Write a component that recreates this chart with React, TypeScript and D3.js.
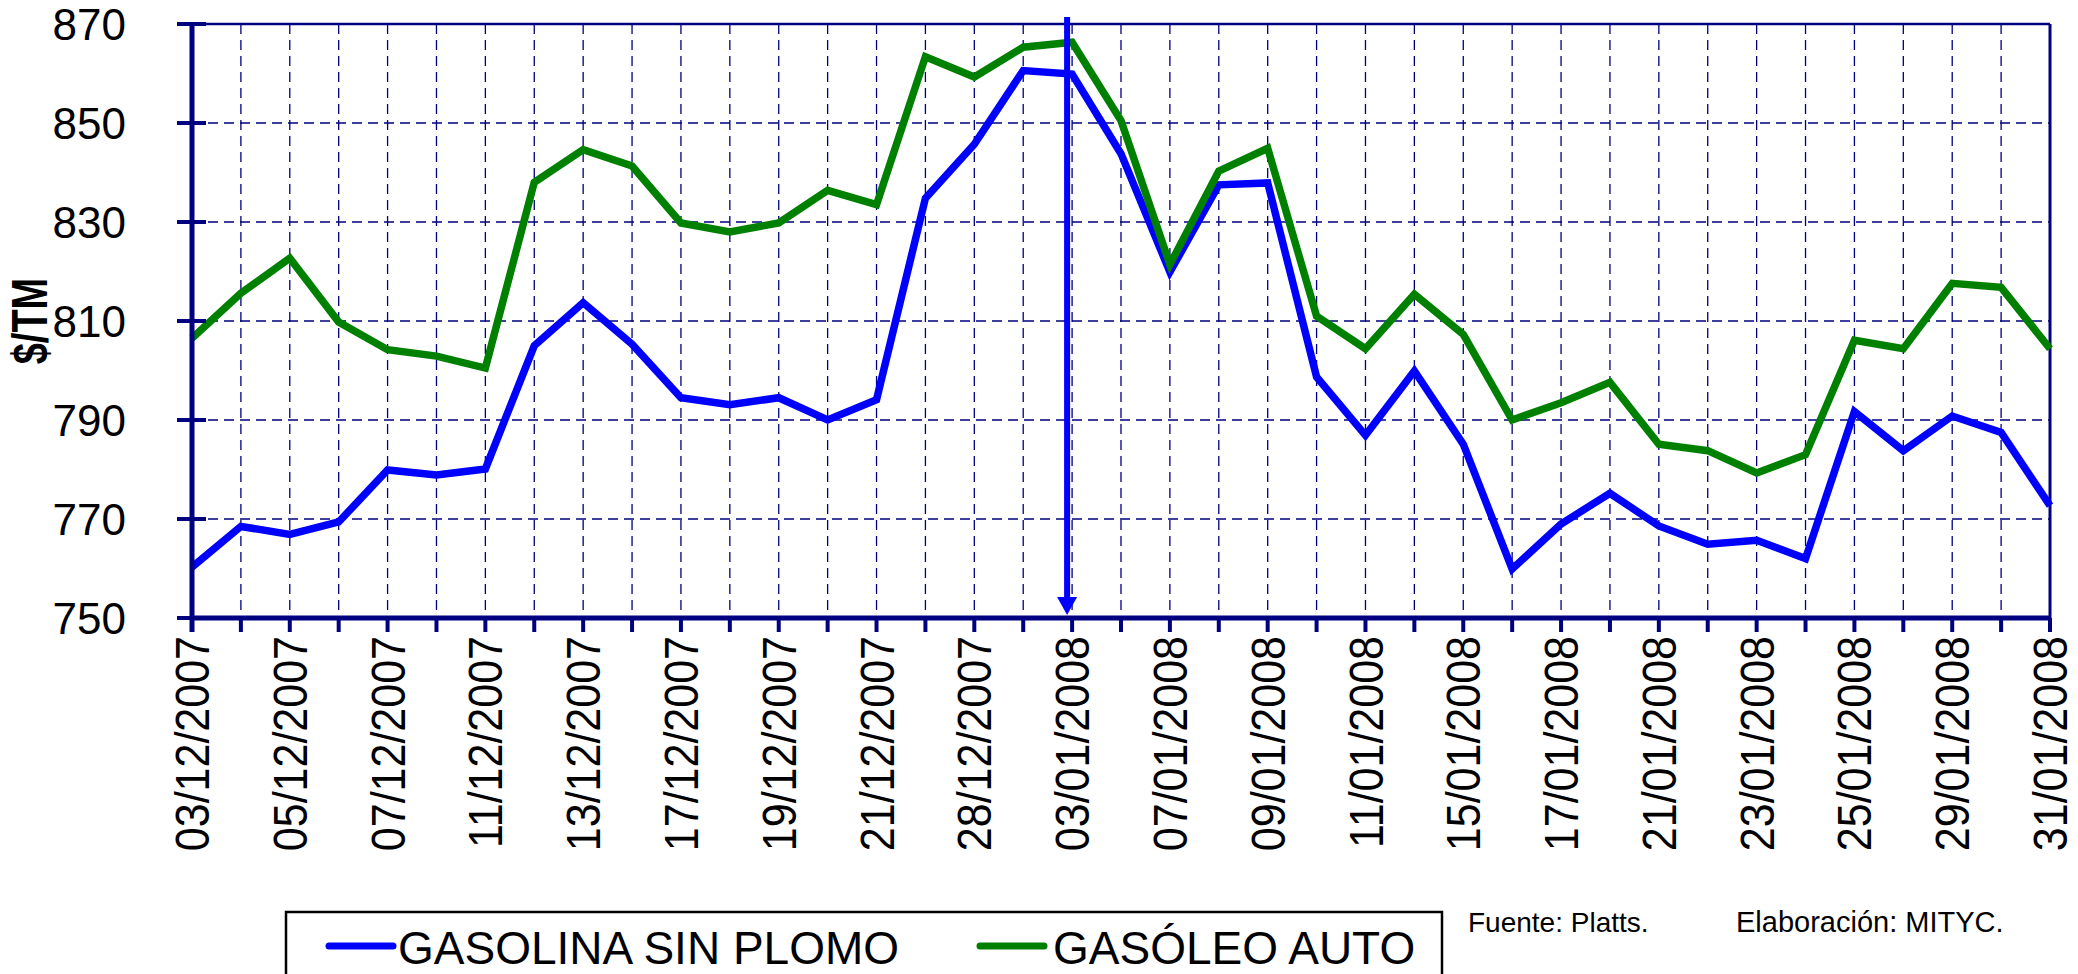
import * as d3 from "d3";
import React, { useRef, useEffect } from "react";

const dates = [
  "03/12/2007", "04/12/2007", "05/12/2007", "06/12/2007", "07/12/2007",
  "10/12/2007", "11/12/2007", "12/12/2007", "13/12/2007", "14/12/2007",
  "17/12/2007", "18/12/2007", "19/12/2007", "20/12/2007", "21/12/2007",
  "27/12/2007", "28/12/2007", "02/01/2008", "03/01/2008", "04/01/2008",
  "07/01/2008", "08/01/2008", "09/01/2008", "10/01/2008", "11/01/2008",
  "14/01/2008", "15/01/2008", "16/01/2008", "17/01/2008", "18/01/2008",
  "21/01/2008", "22/01/2008", "23/01/2008", "24/01/2008", "25/01/2008",
  "28/01/2008", "29/01/2008", "30/01/2008", "31/01/2008",
];

const gasolina = [
  760.3, 768.5, 766.9, 769.4, 779.9, 778.9, 780.1, 805, 813.7, 805.3,
  794.5, 793.1, 794.5, 790, 794.1, 834.8, 845.7, 860.6, 859.9, 843.8,
  819.9, 837.5, 837.9, 798.7, 786.9, 799.9, 785.1, 759.9, 769, 775.2,
  768.6, 764.9, 765.7, 762, 791.7, 783.8, 790.8, 787.5, 772.7,
];

const gasoleo = [
  806.5, 815.6, 822.7, 809.8, 804.2, 802.9, 800.5, 838, 844.6, 841.3,
  829.8, 828, 829.8, 836.4, 833.5, 863.4, 859.3, 865.3, 866.3, 850.5,
  821.4, 840.3, 844.9, 811, 804.4, 815.4, 807.3, 790, 793.5, 797.6,
  785.1, 783.8, 779.3, 783, 806.1, 804.4, 817.6, 816.8, 804.4,
];

const yTicks = [750, 770, 790, 810, 830, 850, 870];
const series = [
  { name: "GASOLINA SIN PLOMO", values: gasolina, color: "#0000ff" },
  { name: "GASÓLEO AUTO", values: gasoleo, color: "#008000" },
];
const markerDate = "03/01/2008";

export default function App() {
  const ref = useRef(null);
  const W = 2078;
  const H = 974;
  const left = 192;
  const right = 2050;
  const top = 24;
  const bottom = 618;
  const navy = "#000080";
  const font = "'Liberation Sans', Arial, sans-serif";

  useEffect(() => {
    const svg = d3.select(ref.current);
    svg.selectAll("*").remove();

    const x = d3.scalePoint().domain(dates).range([left, right]);
    const y = d3.scaleLinear().domain([750, 870]).range([bottom, top]);

    // grid
    svg
      .append("g")
      .selectAll("line")
      .data(yTicks.slice(1, -1))
      .enter()
      .append("line")
      .attr("x1", left)
      .attr("x2", right)
      .attr("y1", (d) => y(d))
      .attr("y2", (d) => y(d))
      .attr("stroke", navy)
      .attr("stroke-width", 1.3)
      .attr("stroke-dasharray", "10,6");

    svg
      .append("g")
      .selectAll("line")
      .data(dates.slice(1, -1))
      .enter()
      .append("line")
      .attr("x1", (d) => x(d))
      .attr("x2", (d) => x(d))
      .attr("y1", top)
      .attr("y2", bottom)
      .attr("stroke", navy)
      .attr("stroke-width", 1.3)
      .attr("stroke-dasharray", "10,6");

    // frame
    svg.append("line").attr("x1", left).attr("x2", right).attr("y1", top).attr("y2", top)
      .attr("stroke", navy).attr("stroke-width", 2.5);
    svg.append("line").attr("x1", right).attr("x2", right).attr("y1", top).attr("y2", bottom)
      .attr("stroke", navy).attr("stroke-width", 3);

    // series
    const line = d3
      .line()
      .x((d, i) => x(dates[i]))
      .y((d) => y(d));

    series.forEach((s) => {
      svg
        .append("path")
        .datum(s.values)
        .attr("d", line)
        .attr("fill", "none")
        .attr("stroke", s.color)
        .attr("stroke-width", 7.5)
        .attr("stroke-linejoin", "miter");
    });

    // axes
    svg.append("line").attr("x1", left).attr("x2", left).attr("y1", top).attr("y2", bottom + 14)
      .attr("stroke", navy).attr("stroke-width", 5);
    svg.append("line").attr("x1", left).attr("x2", right).attr("y1", bottom).attr("y2", bottom)
      .attr("stroke", navy).attr("stroke-width", 5);

    svg
      .append("g")
      .selectAll("line")
      .data(yTicks)
      .enter()
      .append("line")
      .attr("x1", left - 15)
      .attr("x2", left + 14)
      .attr("y1", (d) => y(d))
      .attr("y2", (d) => y(d))
      .attr("stroke", navy)
      .attr("stroke-width", 4);

    svg
      .append("g")
      .selectAll("line")
      .data(dates)
      .enter()
      .append("line")
      .attr("x1", (d) => x(d))
      .attr("x2", (d) => x(d))
      .attr("y1", bottom)
      .attr("y2", bottom + 14)
      .attr("stroke", navy)
      .attr("stroke-width", 4);

    // y tick labels
    svg
      .append("g")
      .selectAll("text")
      .data(yTicks)
      .enter()
      .append("text")
      .attr("x", 126)
      .attr("y", (d) => y(d))
      .attr("text-anchor", "end")
      .attr("dy", "0.36em")
      .attr("font-family", font)
      .attr("font-size", 44)
      .text((d) => d);

    // x tick labels
    svg
      .append("g")
      .selectAll("text")
      .data(dates.filter((d, i) => i % 2 === 0))
      .enter()
      .append("text")
      .attr("transform", (d) => `translate(${x(d)},636) scale(1.1,1) rotate(-90)`)
      .attr("text-anchor", "end")
      .attr("dy", "0.36em")
      .attr("font-family", font)
      .attr("font-size", 43)
      .text((d) => d);

    // y axis title
    svg
      .append("text")
      .attr("transform", `translate(29,${(top + bottom) / 2}) scale(1.3,1) rotate(-90)`)
      .attr("text-anchor", "middle")
      .attr("dy", "0.36em")
      .attr("font-family", font)
      .attr("font-weight", "bold")
      .attr("font-size", 38)
      .text("$/TM");

    // marker arrow
    const ax = x(markerDate) - 5;
    svg.append("line").attr("x1", ax).attr("x2", ax).attr("y1", 17).attr("y2", 600)
      .attr("stroke", "#0000ff").attr("stroke-width", 6);
    svg.append("path")
      .attr("d", `M${ax - 10},${597} L${ax + 10},${597} L${ax},${615} Z`)
      .attr("fill", "#0000ff");

    // legend
    const lg = svg.append("g");
    lg.append("rect").attr("x", 286).attr("y", 912).attr("width", 1156).attr("height", 120)
      .attr("fill", "white").attr("stroke", "black").attr("stroke-width", 2.5);
    const legendPos = [
      { lx: 329, tx: 398 },
      { lx: 980, tx: 1053 },
    ];
    series.forEach((s, i) => {
      lg.append("line")
        .attr("x1", legendPos[i].lx)
        .attr("x2", legendPos[i].lx + 64)
        .attr("y1", 946)
        .attr("y2", 946)
        .attr("stroke", s.color)
        .attr("stroke-width", 7)
        .attr("stroke-linecap", "round");
      lg.append("text")
        .attr("x", legendPos[i].tx)
        .attr("y", 964)
        .attr("font-family", font)
        .attr("font-size", 46)
        .text(s.name);
    });

    svg.append("text").attr("x", 1468).attr("y", 932)
      .attr("font-family", font).attr("font-size", 28).text("Fuente: Platts.");
    svg.append("text").attr("x", 1736).attr("y", 932)
      .attr("font-family", font).attr("font-size", 29).text("Elaboración: MITYC.");
  }, []);

  return (
    <div style={{ position: "absolute", left: 0, top: 0, width: W, height: H, background: "white" }}>
      <svg ref={ref} width={W} height={H} style={{ display: "block" }}></svg>
    </div>
  );
}
